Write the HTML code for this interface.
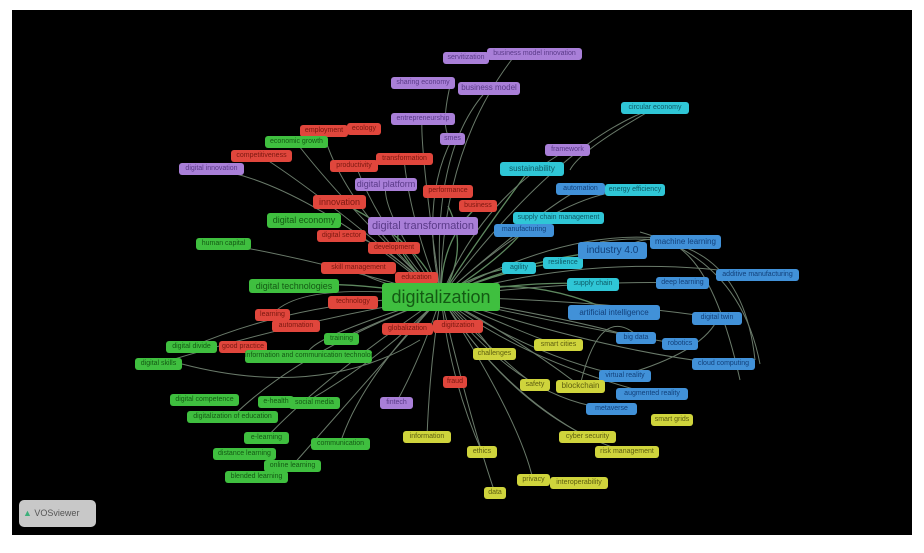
<!DOCTYPE html>
<html><head><meta charset="utf-8"><style>
body{margin:0;width:924px;height:553px;background:#fff;position:relative;overflow:hidden;font-family:"Liberation Sans",sans-serif}
#bg{position:absolute;left:12px;top:10px;width:900px;height:525px;background:#000}
svg{position:absolute;left:0;top:0}
.n{position:absolute;border-radius:3px;font-size:7px;line-height:12px;height:12px;text-align:center;white-space:nowrap;overflow:hidden}
.p{background:#a97fd8;color:#5a3a88}.r{background:#e0463c;color:#7a1810}.g{background:#3fbf3f;color:#145a14}
.c{background:#2fc6d6;color:#0d5a66}.b{background:#4191d8;color:#12407a}.y{background:#cfd43c;color:#5e5e10}
</style></head><body><div id="bg"></div>
<svg width="924" height="553" fill="none" stroke="#7d907d" stroke-width="1" opacity="0.85">
<g stroke="#6fa070" stroke-width="1.3">
<path d="M441 297Q380 240 405 226"/><path d="M441 297Q470 250 530 169"/><path d="M441 297Q520 260 612 250"/><path d="M441 297Q520 270 614 312"/><path d="M441 297Q420 240 340 202"/><path d="M441 297Q350 280 294 286"/><path d="M441 297Q500 260 524 230"/><path d="M441 297Q480 270 519 267"/><path d="M441 297Q500 270 563 262"/><path d="M441 297Q520 280 593 284"/><path d="M441 297Q470 250 448 206"/><path d="M441 297Q440 240 478 206"/>
</g>
<path d="M441 297Q380 230 356 166"/><path d="M441 297Q410 220 404 159"/><path d="M441 297Q420 200 452 139"/><path d="M441 297Q430 150 489 88"/><path d="M441 297Q420 150 422 119"/><path d="M441 297Q340 200 296 142"/><path d="M441 297Q330 200 261 156"/><path d="M441 297Q300 180 211 169"/><path d="M441 297Q340 200 323 131"/><path d="M441 297Q380 210 386 185"/><path d="M441 297Q440 150 516 54"/><path d="M441 297Q480 200 567 150"/><path d="M441 297Q560 140 655 108"/><path d="M441 297Q560 190 635 190"/><path d="M441 297Q540 210 580 189"/><path d="M441 297Q580 220 685 242"/><path d="M441 297Q600 250 757 275"/><path d="M441 297Q580 280 682 283"/><path d="M441 297Q600 300 717 318"/><path d="M441 297Q580 320 636 338"/><path d="M441 297Q590 330 680 344"/><path d="M441 297Q600 350 723 364"/><path d="M441 297Q520 340 580 386"/><path d="M441 297Q540 360 625 376"/><path d="M441 297Q520 360 652 394"/><path d="M441 297Q520 400 611 409"/><path d="M441 297Q500 390 587 437"/><path d="M441 297Q520 420 627 452"/><path d="M441 297Q540 340 558 345"/><path d="M441 297Q480 330 494 354"/><path d="M441 297Q500 360 535 385"/><path d="M441 297Q430 360 427 437"/><path d="M441 297Q450 380 482 452"/><path d="M441 297Q470 420 495 493"/><path d="M441 297Q520 420 533 480"/><path d="M441 297Q420 360 396 403"/><path d="M441 297Q380 360 306 402"/><path d="M441 297Q360 380 340 444"/><path d="M441 297Q350 400 292 466"/><path d="M441 297Q320 380 266 438"/><path d="M441 297Q300 350 232 417"/><path d="M441 297Q300 340 308 356"/><path d="M441 297Q300 320 158 364"/><path d="M441 297Q300 300 191 347"/><path d="M441 297Q380 320 341 339"/><path d="M441 297Q300 280 272 315"/><path d="M441 297Q320 260 223 244"/><path d="M441 297Q360 280 358 268"/><path d="M441 297Q420 280 416 278"/><path d="M441 297Q370 230 341 236"/><path d="M182 364Q320 400 420 340"/><path d="M620 250Q700 200 740 380"/><path d="M580 386Q600 300 640 338"/><path d="M655 108Q580 150 570 170"/><path d="M600 242Q740 220 755 360"/><path d="M450 86Q440 130 451 139"/><path d="M760 364Q740 260 640 232"/><path d="M580 386Q700 360 718 318"/>
</svg>
<div class="n p" style="left:487px;top:48px;width:95px">business model innovation</div>
<div class="n p" style="left:443px;top:52px;width:46px">servitization</div>
<div class="n p" style="left:391px;top:77px;width:64px">sharing economy</div>
<div class="n p" style="left:458px;top:82px;width:62px;height:13px;font-size:8px">business model</div>
<div class="n p" style="left:391px;top:113px;width:64px">entrepreneurship</div>
<div class="n p" style="left:440px;top:133px;width:25px">smes</div>
<div class="n p" style="left:179px;top:163px;width:65px">digital innovation</div>
<div class="n p" style="left:355px;top:178px;width:62px;height:13px;font-size:9px">digital platform</div>
<div class="n p" style="left:368px;top:217px;width:110px;height:18px;line-height:19px;font-size:11px">digital transformation</div>
<div class="n p" style="left:545px;top:144px;width:45px">framework</div>
<div class="n p" style="left:380px;top:397px;width:33px">fintech</div>
<div class="n r" style="left:300px;top:125px;width:48px">employment</div>
<div class="n r" style="left:347px;top:123px;width:34px">ecology</div>
<div class="n r" style="left:231px;top:150px;width:61px">competitiveness</div>
<div class="n r" style="left:330px;top:160px;width:48px">productivity</div>
<div class="n r" style="left:376px;top:153px;width:57px">transformation</div>
<div class="n r" style="left:313px;top:195px;width:53px;height:14px;line-height:14px;font-size:9px">innovation</div>
<div class="n r" style="left:423px;top:185px;width:50px;height:13px">performance</div>
<div class="n r" style="left:459px;top:200px;width:38px">business</div>
<div class="n r" style="left:317px;top:230px;width:49px">digital sector</div>
<div class="n r" style="left:368px;top:242px;width:52px">development</div>
<div class="n r" style="left:321px;top:262px;width:75px">skill management</div>
<div class="n r" style="left:395px;top:272px;width:43px">education</div>
<div class="n r" style="left:328px;top:296px;width:50px;height:13px">technology</div>
<div class="n r" style="left:255px;top:309px;width:35px">learning</div>
<div class="n r" style="left:272px;top:320px;width:48px">automation</div>
<div class="n r" style="left:219px;top:341px;width:48px">good practice</div>
<div class="n r" style="left:382px;top:323px;width:51px">globalization</div>
<div class="n r" style="left:433px;top:320px;width:50px;height:13px">digitization</div>
<div class="n r" style="left:443px;top:376px;width:24px">fraud</div>
<div class="n g" style="left:265px;top:136px;width:63px">economic growth</div>
<div class="n g" style="left:267px;top:213px;width:74px;height:15px;line-height:15px;font-size:9px">digital economy</div>
<div class="n g" style="left:196px;top:238px;width:55px">human capital</div>
<div class="n g" style="left:249px;top:279px;width:90px;height:14px;line-height:14px;font-size:9px">digital technologies</div>
<div class="n g" style="left:382px;top:283px;width:118px;height:28px;line-height:28px;font-size:18px">digitalization</div>
<div class="n g" style="left:324px;top:333px;width:35px">training</div>
<div class="n g" style="left:245px;top:350px;width:127px;height:13px">information and communication technologies</div>
<div class="n g" style="left:166px;top:341px;width:51px">digital divide</div>
<div class="n g" style="left:135px;top:358px;width:47px">digital skills</div>
<div class="n g" style="left:170px;top:394px;width:69px">digital competence</div>
<div class="n g" style="left:258px;top:396px;width:36px">e-health</div>
<div class="n g" style="left:289px;top:397px;width:51px">social media</div>
<div class="n g" style="left:187px;top:411px;width:91px">digitalization of education</div>
<div class="n g" style="left:244px;top:432px;width:45px">e-learning</div>
<div class="n g" style="left:311px;top:438px;width:59px">communication</div>
<div class="n g" style="left:213px;top:448px;width:63px">distance learning</div>
<div class="n g" style="left:264px;top:460px;width:57px">online learning</div>
<div class="n g" style="left:225px;top:471px;width:63px">blended learning</div>
<div class="n c" style="left:621px;top:102px;width:68px">circular economy</div>
<div class="n c" style="left:500px;top:162px;width:64px;height:14px;line-height:14px;font-size:8px">sustainability</div>
<div class="n c" style="left:605px;top:184px;width:60px">energy efficiency</div>
<div class="n c" style="left:513px;top:212px;width:91px">supply chain management</div>
<div class="n c" style="left:502px;top:262px;width:34px">agility</div>
<div class="n c" style="left:543px;top:257px;width:40px">resilience</div>
<div class="n c" style="left:567px;top:278px;width:52px;height:13px">supply chain</div>
<div class="n b" style="left:556px;top:183px;width:49px">automation</div>
<div class="n b" style="left:494px;top:224px;width:60px;height:13px">manufacturing</div>
<div class="n b" style="left:578px;top:242px;width:69px;height:17px;line-height:17px;font-size:10px">industry 4.0</div>
<div class="n b" style="left:650px;top:235px;width:71px;height:14px;line-height:14px;font-size:8px">machine learning</div>
<div class="n b" style="left:656px;top:277px;width:53px">deep learning</div>
<div class="n b" style="left:716px;top:269px;width:83px">additive manufacturing</div>
<div class="n b" style="left:568px;top:305px;width:92px;height:15px;line-height:15px;font-size:8px">artificial intelligence</div>
<div class="n b" style="left:692px;top:312px;width:50px;height:13px">digital twin</div>
<div class="n b" style="left:616px;top:332px;width:40px">big data</div>
<div class="n b" style="left:662px;top:338px;width:36px">robotics</div>
<div class="n b" style="left:692px;top:358px;width:63px">cloud computing</div>
<div class="n b" style="left:599px;top:370px;width:52px">virtual reality</div>
<div class="n b" style="left:616px;top:388px;width:72px">augmented reality</div>
<div class="n b" style="left:586px;top:403px;width:51px">metaverse</div>
<div class="n y" style="left:534px;top:339px;width:49px">smart cities</div>
<div class="n y" style="left:473px;top:348px;width:43px">challenges</div>
<div class="n y" style="left:520px;top:379px;width:30px">safety</div>
<div class="n y" style="left:556px;top:380px;width:49px;height:13px;font-size:8px">blockchain</div>
<div class="n y" style="left:651px;top:414px;width:42px">smart grids</div>
<div class="n y" style="left:559px;top:431px;width:57px">cyber security</div>
<div class="n y" style="left:595px;top:446px;width:64px">risk management</div>
<div class="n y" style="left:403px;top:431px;width:48px">information</div>
<div class="n y" style="left:467px;top:446px;width:30px">ethics</div>
<div class="n y" style="left:517px;top:474px;width:33px">privacy</div>
<div class="n y" style="left:550px;top:477px;width:58px">interoperability</div>
<div class="n y" style="left:484px;top:487px;width:22px">data</div>
<div style="position:absolute;left:19px;top:500px;width:77px;height:27px;background:#c8c8c8;border-radius:5px;font-size:9px;color:#555;line-height:27px;padding-left:4px;box-sizing:border-box"><span style="color:#3cb07a;font-weight:bold">&#9650;</span> VOSviewer</div>
</body></html>
